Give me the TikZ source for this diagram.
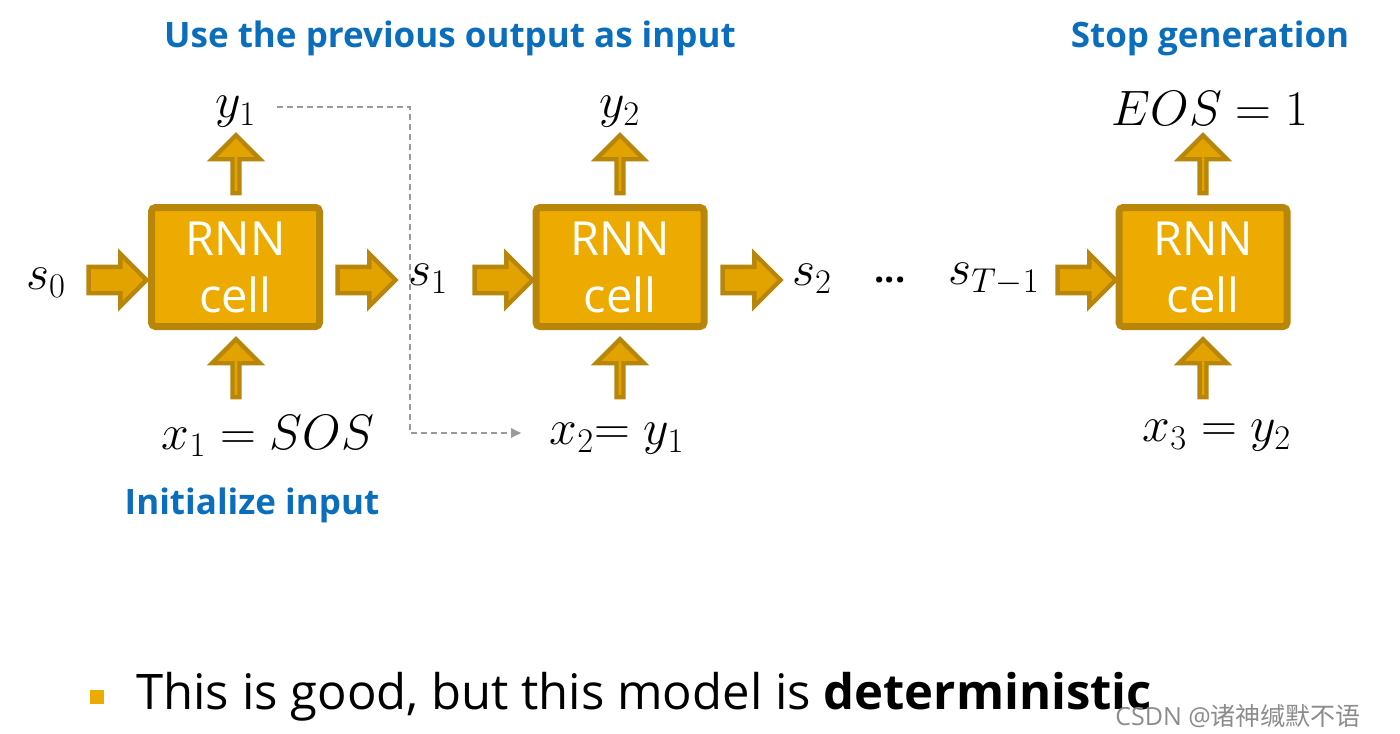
\documentclass[tikz,border=0pt]{standalone}
\usepackage{fontspec}
\setsansfont{Open Sans}
\newfontfamily\cjkfont{Noto Sans CJK SC}
\usetikzlibrary{arrows.meta,shapes.arrows}
\definecolor{cellfill}{HTML}{EDAA00}
\definecolor{celledge}{HTML}{B8860B}
\definecolor{arrowfill}{HTML}{E2A300}
\definecolor{headblue}{HTML}{0A6EBD}
\definecolor{loopgray}{HTML}{9A9A9A}
\definecolor{markgray}{HTML}{8C8C8C}
\tikzset{
  cell/.style={draw=celledge, fill=cellfill, line width=3.5pt, rounded corners=2pt,
    minimum width=84pt, minimum height=59.5pt, align=center, text=white,
    font=\sffamily\fontsize{23.5}{28.5}\selectfont},
  fat/.style={single arrow, draw=celledge, fill=arrowfill, line width=2.2pt,
    minimum height=29pt, minimum width=24pt, inner xsep=0pt, inner ysep=5.5pt,
    single arrow head extend=6.5pt, single arrow tip angle=90},
  fatup/.style={fat, shape border rotate=90},
  lab/.style={font=\fontsize{23.5}{27}\selectfont, inner sep=1pt},
  head/.style={font=\sffamily\bfseries\fontsize{17.5}{21}\selectfont, text=headblue},
  reuse/.style={draw=loopgray, line width=1pt, dash pattern=on 3pt off 2pt,
    -{Triangle[length=5pt, width=4.5pt]}},
}
\begin{document}
\begin{tikzpicture}[x=0.5pt, y=-0.5pt]
\useasboundingbox (0,0) rectangle (1400,733);
% cells
\node[cell] (c1) at (235.5,267) {RNN\\cell};
\node[cell] (c2) at (620,267) {RNN\\cell};
\node[cell] (c3) at (1203,267) {RNN\\cell};
% states
\node[lab] (s0) at (46,283) {$s_0$};
\node[lab] (s1) at (428,279) {$s_1$};
\node[lab] (s2) at (812,279) {$s_2$};
\node[font=\sffamily\bfseries\fontsize{18}{20}\selectfont] (dots) at (890,280) {...};
\node[lab] (sT) at (994,279) {$s_{T-1}$};
% outputs and inputs
\node[lab] (y1) at (236,112) {$y_1$};
\node[lab] (y2) at (620,112) {$y_2$};
\node[lab] (eos) at (1210,108) {$EOS = 1$};
\node[lab] (x1) at (268,436) {$x_1 = SOS$};
\node[lab] (x2) at (617,439) {$x_2{=}\;y_1$};
\node[lab] (x3) at (1217,436) {$x_3 = y_2$};
% block arrows
\node[fat] (a0) at (111,280) {};
\node[fat] (a1) at (360,280) {};
\node[fat] (a2) at (497,280) {};
\node[fat] (a3) at (745,280) {};
\node[fat] (a4) at (1080,280) {};
\foreach \c/\x in {c1/236, c2/620, c3/1203}{
  \node[fatup] (up-\c) at (\x,166) {};
  \node[fatup] (in-\c) at (\x,370) {};
}
% feedback y1 -> x2
\coordinate (bend) at (410,270);
\draw[reuse] ([xshift=9pt,yshift=2.5pt]y1.east) -| (bend) |- ([xshift=-13pt,yshift=3pt]x2.west);
% captions
\node[head] (h1) at (450,38) {Use the previous output as input};
\node[head] (h2) at (1210,38) {Stop generation};
\node[head] (h3) at (252,505) {Initialize input};
% bullet line
\node[fill=cellfill, minimum size=7pt, inner sep=0pt] (sq) at (97,697) {};
\node[anchor=west, font=\sffamily\fontsize{24.5}{28}\selectfont, inner sep=0pt] (msg) at (136,697)
  {This is good, but this model is \textbf{deterministic}};
\node[anchor=west, text=markgray, font=\sffamily\fontsize{12.5}{14}\selectfont, inner sep=0pt] (wm) at (1115,716)
  {CSDN @{\cjkfont 诸神缄默不语}};
\end{tikzpicture}
\end{document}
